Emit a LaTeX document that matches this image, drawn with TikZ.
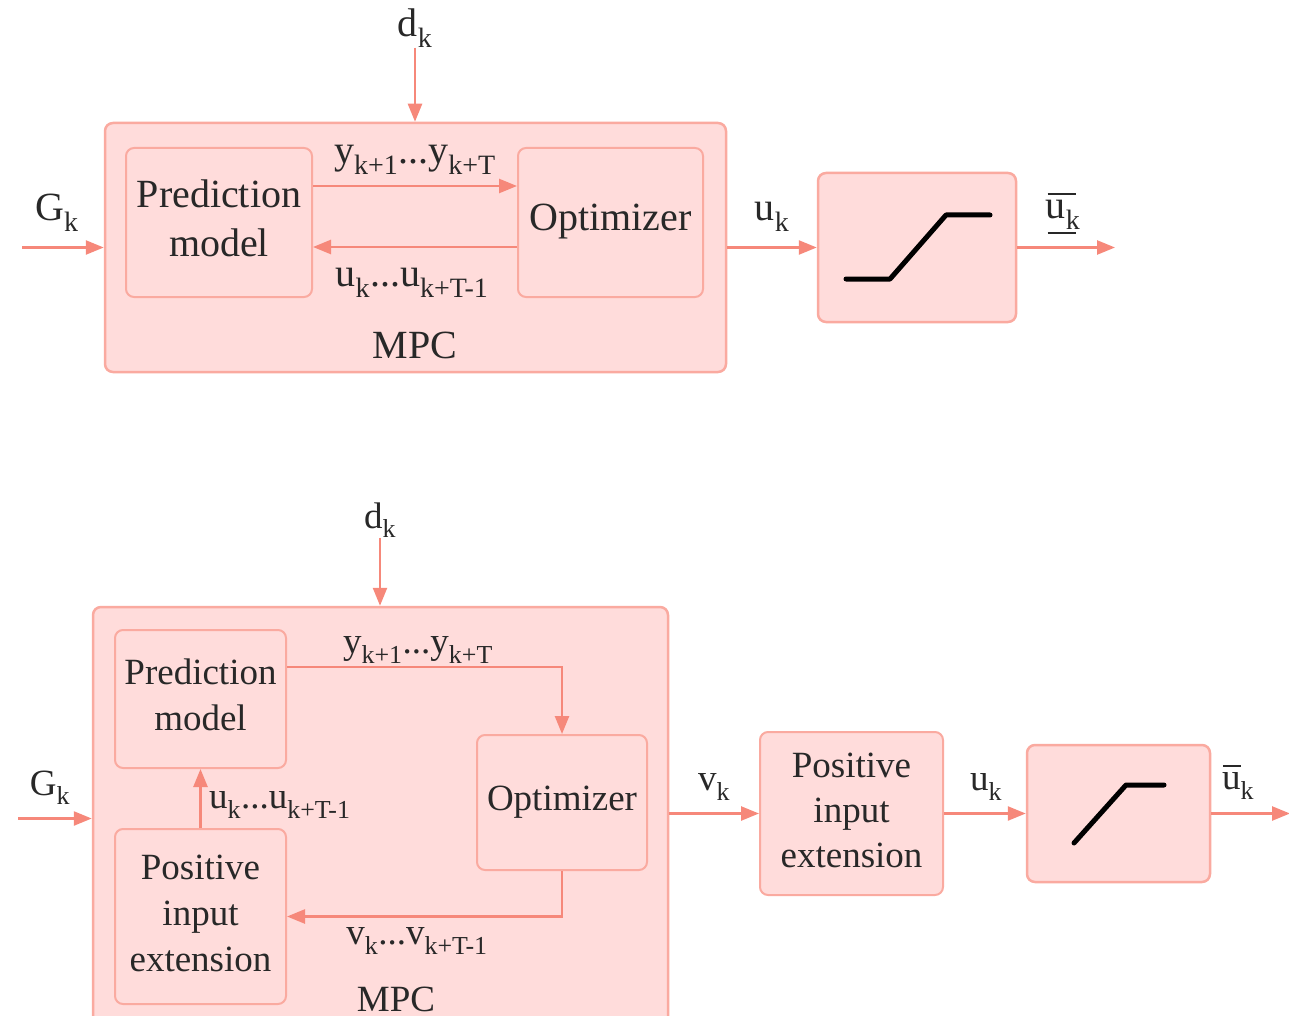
\documentclass[tikz,border=0pt]{standalone}
\usepackage{fontspec}
\setmainfont{Liberation Serif}
\usetikzlibrary{arrows.meta}
\definecolor{boxfill}{RGB}{255,220,219}
\definecolor{boxline}{RGB}{250,170,160}
\definecolor{arrc}{RGB}{246,136,122}
\definecolor{txt}{RGB}{40,40,40}
\begin{document}
\begin{tikzpicture}[x=1pt,y=-1pt,
  outerbox/.style={draw=boxline,fill=boxfill,line width=2.5pt,rounded corners=8pt,inner sep=0pt},
  innerbox/.style={draw=boxline,fill=boxfill,line width=2pt,rounded corners=8pt,inner sep=0pt,align=center,text=txt},
  conn/.style={draw=arrc,line width=2.5pt,-{Triangle[length=18pt,width=14pt]}},
  lbl/.style={text=txt,inner sep=0pt},
  barline/.style={draw=txt,line width=2pt},
  bigf/.style={font=\fontsize{40}{46}\selectfont},
  smallf/.style={font=\fontsize{37}{44}\selectfont},
  satcurve/.style={draw=black,line width=5pt,line cap=round,line join=round}]
\useasboundingbox (0,0) rectangle (1289,1016);
\clip (0,0) rectangle (1289,1016);
% ---------- top diagram ----------
\node[outerbox,minimum width=621pt,minimum height=249pt] (mpc1) at (415.5,247.5) {};
\node[innerbox,bigf,minimum width=186pt,minimum height=149pt] (pm1) at (219,222.5) {\raisebox{6pt}{\begin{tabular}{@{}c@{}}Prediction\\[3pt]model\end{tabular}}};
\node[innerbox,bigf,minimum width=185pt,minimum height=149pt] (opt1) at (610.5,222.5) {\raisebox{10pt}{Optimizer}};
\node[outerbox,minimum width=198pt,minimum height=149pt] (sat1) at (917,247.5) {};
\node[lbl,bigf] (d1) at (415,28) {d\textsubscript{k}};
\node[lbl,bigf] (g1l) at (57,213) {G\textsubscript{k}};
\node[lbl,bigf] (u1l) at (772,217) {u\textsubscript{k}};
\node[lbl,bigf] (ub1l) at (1063,215) {u\textsubscript{k}};
\draw[barline] ([xshift=2pt,yshift=6pt]ub1l.north west) -- ([xshift=-4pt,yshift=6pt]ub1l.north east);
\draw[barline] ([xshift=2pt,yshift=-3pt]ub1l.south west) -- ([xshift=-4pt,yshift=-3pt]ub1l.south east);
\node[lbl,bigf] (y1l) at (415,160) {y\textsubscript{k+1}...y\textsubscript{k+T}};
\node[lbl,bigf] (uu1l) at (412,283) {u\textsubscript{k}...u\textsubscript{k+T-1}};
\node[lbl,bigf] (mpc1l) at (415,345) {MPC};
\coordinate (g1) at (22,247.5);
\coordinate (o1) at (1115,247.5);
\draw[conn] (d1.south) -- (d1.south |- mpc1.north);
\draw[conn] (g1) -- (mpc1.west);
\draw[conn] ([yshift=36.5pt]pm1.east) -- ([yshift=36.5pt]opt1.west);
\draw[conn] ([yshift=-24.5pt]opt1.west) -- ([yshift=-24.5pt]pm1.east);
\draw[conn] (mpc1.east |- sat1.west) -- (sat1.west);
\draw[conn] (sat1.east) -- (o1);
\draw[satcurve] (846,279) -- (890,279) -- (946,215) -- (990,215);
% ---------- bottom diagram ----------
\node[outerbox,minimum width=575pt,minimum height=423pt] (mpc2) at (380.5,818.5) {};
\node[innerbox,smallf,minimum width=171pt,minimum height=138pt] (pm2) at (200.5,699) {\raisebox{6pt}{\begin{tabular}{@{}c@{}}Prediction\\[2pt]model\end{tabular}}};
\node[innerbox,smallf,minimum width=171pt,minimum height=175pt] (pie2in) at (200.5,916.5) {\begin{tabular}{@{}c@{}}Positive\\[2pt]input\\[2pt]extension\end{tabular}};
\node[innerbox,smallf,minimum width=170pt,minimum height=135pt] (opt2) at (562,802.5) {Optimizer};
\node[innerbox,smallf,minimum width=183pt,minimum height=163pt] (pie2) at (851.5,813.5) {\begin{tabular}{@{}c@{}}Positive\\[1pt]input\\[1pt]extension\end{tabular}};
\node[outerbox,minimum width=183pt,minimum height=137pt] (sat2) at (1118.5,813.5) {};
\node[lbl,smallf] (d2) at (380,520) {d\textsubscript{k}};
\node[lbl,smallf] (g2l) at (50,788) {G\textsubscript{k}};
\node[lbl,smallf] (v2l) at (714,787) {v\textsubscript{k}};
\node[lbl,smallf] (u2l) at (986,787) {u\textsubscript{k}};
\node[lbl,smallf] (ub2l) at (1238,786) {u\textsubscript{k}};
\draw[barline] ([xshift=1pt,yshift=7pt]ub2l.north west) -- ([xshift=-13pt,yshift=7pt]ub2l.north east);
\node[lbl,smallf] (y2l) at (418,650) {y\textsubscript{k+1}...y\textsubscript{k+T}};
\node[lbl,smallf,anchor=west] (uu2l) at (209,805) {u\textsubscript{k}...u\textsubscript{k+T-1}};
\node[lbl,smallf] (vv2l) at (417,941) {v\textsubscript{k}...v\textsubscript{k+T-1}};
\node[lbl,smallf] (mpc2l) at (396,999) {MPC};
\coordinate (g2) at (18,818.5);
\coordinate (o2) at (1290,813.5);
\draw[conn] (d2.south) -- (d2.south |- mpc2.north);
\draw[conn] (g2) -- (mpc2.west);
\draw[conn] ([yshift=32pt]pm2.east) -| (opt2.north);
\draw[conn] (opt2.south) |- (pie2in.east);
\draw[conn] (pie2in.north) -- (pm2.south);
\draw[conn] (mpc2.east |- pie2.west) -- (pie2.west);
\draw[conn] (pie2.east) -- (sat2.west);
\draw[conn] (sat2.east) -- (o2);
\draw[satcurve] (1074,843) -- (1126,785) -- (1164,785);
\end{tikzpicture}
\end{document}
